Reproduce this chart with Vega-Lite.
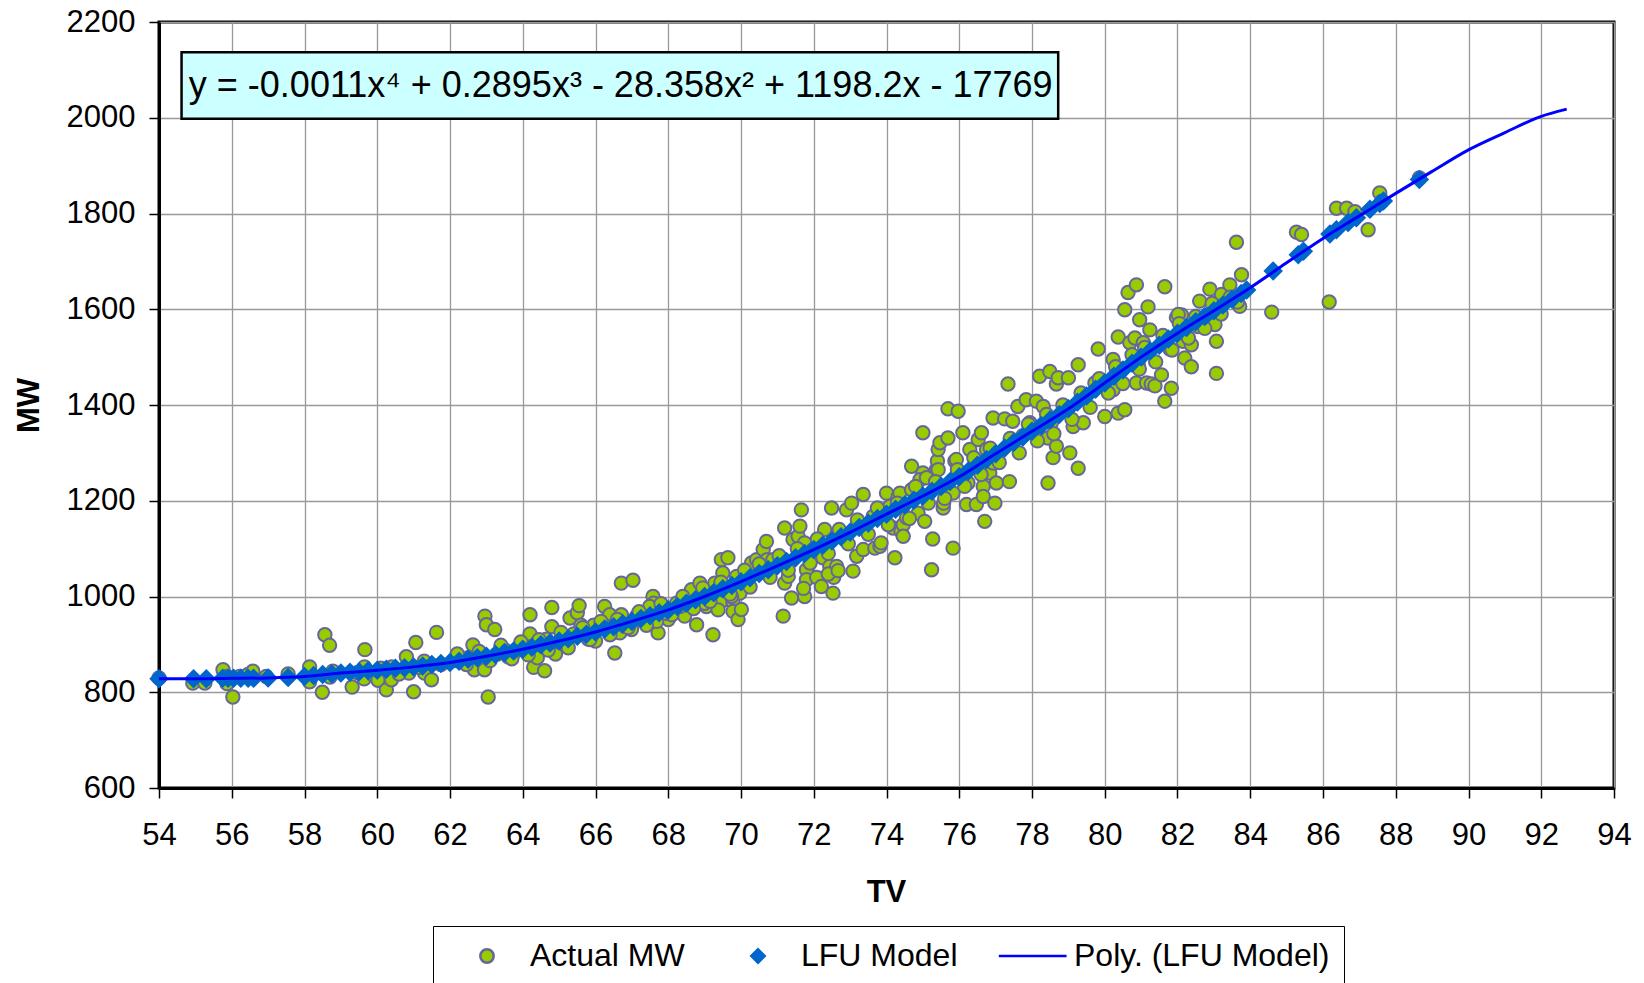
{
  "$schema": "https://vega.github.io/schema/vega-lite/v6.json",
  "width": 1455,
  "height": 766,
  "autosize": {"type": "none"},
  "padding": {"left": 159, "top": 22, "right": 30, "bottom": 195},
  "background": "white",
  "config": {
    "view": {"stroke": "#000000", "strokeWidth": 3},
    "font": "Liberation Sans"
  },
  "datasets": {
    "actual": [
      {"TV":54.0,"MW":830},{"TV":54.93,"MW":819},{"TV":55.26,"MW":819},{"TV":55.76,"MW":847},{"TV":55.87,"MW":818},{"TV":56.03,"MW":790},{"TV":55.87,"MW":833},{"TV":56.22,"MW":833},{"TV":56.45,"MW":837},{"TV":56.58,"MW":844},{"TV":56.95,"MW":833},{"TV":57.55,"MW":838},{"TV":58.14,"MW":853},{"TV":58.14,"MW":822},{"TV":58.56,"MW":920},{"TV":58.69,"MW":898},{"TV":58.49,"MW":800},{"TV":58.78,"MW":844},{"TV":58.7,"MW":832},{"TV":59.31,"MW":811},{"TV":59.66,"MW":889},{"TV":59.65,"MW":853},{"TV":59.64,"MW":828},{"TV":59.88,"MW":837},{"TV":60.02,"MW":825},{"TV":60.25,"MW":805},{"TV":60.39,"MW":826},{"TV":60.4,"MW":853},{"TV":60.8,"MW":874},{"TV":61.0,"MW":801},{"TV":61.06,"MW":904},{"TV":60.87,"MW":840},{"TV":61.29,"MW":865},{"TV":61.3,"MW":840},{"TV":61.49,"MW":826},{"TV":61.63,"MW":925},{"TV":62.13,"MW":866},{"TV":62.63,"MW":899},{"TV":62.65,"MW":861},{"TV":62.67,"MW":847},{"TV":62.96,"MW":959},{"TV":63.0,"MW":941},{"TV":63.23,"MW":931},{"TV":63.05,"MW":790},{"TV":62.95,"MW":847},{"TV":59.45,"MW":841},{"TV":60.1,"MW":850},{"TV":60.6,"MW":838},{"TV":61.15,"MW":852},{"TV":61.75,"MW":858},{"TV":62.3,"MW":868},{"TV":62.5,"MW":872},{"TV":63.3,"MW":880},{"TV":63.5,"MW":889},{"TV":63.6,"MW":874},
      {"TV":64.2,"MW":962},{"TV":64.2,"MW":922},{"TV":64.25,"MW":889},{"TV":64.3,"MW":852},{"TV":64.4,"MW":872},{"TV":64.6,"MW":845},{"TV":64.65,"MW":911},{"TV":64.8,"MW":937},{"TV":64.8,"MW":977},{"TV":64.9,"MW":880},{"TV":65.2,"MW":907},{"TV":65.3,"MW":955},{"TV":65.4,"MW":922},{"TV":65.5,"MW":966},{"TV":65.55,"MW":981},{"TV":65.6,"MW":940},{"TV":65.8,"MW":911},{"TV":65.95,"MW":940},{"TV":66.0,"MW":907},{"TV":64.0,"MW":895},{"TV":64.5,"MW":900},{"TV":65.0,"MW":905},{"TV":65.7,"MW":925},{"TV":63.8,"MW":885},
      {"TV":66.25,"MW":979},{"TV":66.39,"MW":962},{"TV":66.53,"MW":882},{"TV":66.71,"MW":1028},{"TV":67.03,"MW":1034},{"TV":66.71,"MW":962},{"TV":67.03,"MW":945},{"TV":67.13,"MW":959},{"TV":67.31,"MW":962},{"TV":67.58,"MW":1000},{"TV":67.6,"MW":986},{"TV":67.72,"MW":924},{"TV":67.86,"MW":979},{"TV":68.0,"MW":952},{"TV":68.45,"MW":959},{"TV":68.59,"MW":993},{"TV":68.78,"MW":941},{"TV":69.05,"MW":979},{"TV":69.23,"MW":920},{"TV":69.28,"MW":1028},{"TV":69.46,"MW":1077},{"TV":69.64,"MW":1081},{"TV":69.5,"MW":1049},{"TV":69.46,"MW":990},{"TV":69.78,"MW":988},{"TV":69.78,"MW":969},{"TV":69.92,"MW":952},{"TV":70.01,"MW":973},{"TV":69.97,"MW":1007},{"TV":66.3,"MW":938},{"TV":66.67,"MW":924},{"TV":66.8,"MW":938},{"TV":66.99,"MW":931},{"TV":67.49,"MW":979},{"TV":67.68,"MW":948},{"TV":67.95,"MW":965},{"TV":68.23,"MW":986},{"TV":68.32,"MW":979},{"TV":68.64,"MW":1014},{"TV":68.87,"MW":1028},{"TV":69.0,"MW":986},{"TV":69.37,"MW":972},{"TV":69.5,"MW":1014},{"TV":69.74,"MW":1000},{"TV":70.06,"MW":1035},{"TV":69.88,"MW":1042},
      {"TV":70.29,"MW":1070},{"TV":70.43,"MW":1077},{"TV":70.61,"MW":1098},{"TV":70.7,"MW":1115},{"TV":70.72,"MW":1077},{"TV":70.88,"MW":1077},{"TV":71.16,"MW":959},{"TV":71.2,"MW":1143},{"TV":71.2,"MW":1028},{"TV":71.3,"MW":1042},{"TV":71.39,"MW":997},{"TV":71.43,"MW":1119},{"TV":71.57,"MW":1126},{"TV":71.62,"MW":1147},{"TV":71.66,"MW":1181},{"TV":71.75,"MW":1000},{"TV":71.8,"MW":1056},{"TV":71.8,"MW":1035},{"TV":71.75,"MW":1112},{"TV":71.98,"MW":1098},{"TV":72.08,"MW":1040},{"TV":72.21,"MW":1021},{"TV":72.25,"MW":1081},{"TV":72.3,"MW":1140},{"TV":72.44,"MW":1063},{"TV":72.49,"MW":1185},{"TV":72.53,"MW":1007},{"TV":72.55,"MW":1040},{"TV":72.63,"MW":1063},{"TV":72.9,"MW":1181},{"TV":73.04,"MW":1195},{"TV":73.08,"MW":1053},{"TV":73.18,"MW":1084},{"TV":73.22,"MW":1157},{"TV":73.36,"MW":1213},{"TV":73.36,"MW":1098},{"TV":73.63,"MW":1167},{"TV":73.68,"MW":1101},{"TV":73.82,"MW":1105},{"TV":73.85,"MW":1112},{"TV":74.0,"MW":1216},{"TV":74.09,"MW":1188},{"TV":74.18,"MW":1143},{"TV":74.23,"MW":1081},{"TV":74.32,"MW":1209},{"TV":74.37,"MW":1216},{"TV":74.4,"MW":1136},{"TV":74.46,"MW":1150},{"TV":74.69,"MW":1223},{"TV":74.69,"MW":1272},{"TV":74.87,"MW":1174},{"TV":75.0,"MW":1258},{"TV":75.05,"MW":1157},{"TV":75.24,"MW":1056},{"TV":75.37,"MW":1265},{"TV":75.4,"MW":1283},{"TV":75.56,"MW":1185},{"TV":75.57,"MW":1195},{"TV":75.83,"MW":1216},{"TV":75.83,"MW":1101},{"TV":75.88,"MW":1283},{"TV":76.2,"MW":1192},{"TV":76.24,"MW":1237},{"TV":76.47,"MW":1192},{"TV":76.66,"MW":1230},{"TV":76.66,"MW":1209},{"TV":76.7,"MW":1157},{"TV":76.98,"MW":1195},{"TV":76.84,"MW":1258},
      {"TV":75.0,"MW":1342},{"TV":74.92,"MW":1244},{"TV":75.1,"MW":1248},{"TV":75.42,"MW":1307},{"TV":75.47,"MW":1321},{"TV":75.42,"MW":1265},{"TV":75.69,"MW":1392},{"TV":75.97,"MW":1387},{"TV":75.69,"MW":1331},{"TV":75.92,"MW":1286},{"TV":76.1,"MW":1342},{"TV":76.29,"MW":1307},{"TV":76.52,"MW":1328},{"TV":76.61,"MW":1342},{"TV":76.75,"MW":1307},{"TV":76.93,"MW":1373},{"TV":77.02,"MW":1237},{"TV":76.93,"MW":1279},{"TV":77.25,"MW":1371},{"TV":77.34,"MW":1444},{"TV":77.38,"MW":1240},{"TV":77.47,"MW":1366},{"TV":77.61,"MW":1397},{"TV":77.75,"MW":1336},{"TV":77.84,"MW":1411},{"TV":77.94,"MW":1363},{"TV":78.12,"MW":1408},{"TV":78.21,"MW":1460},{"TV":78.31,"MW":1397},{"TV":78.44,"MW":1237},{"TV":78.44,"MW":1331},{"TV":78.49,"MW":1470},{"TV":78.53,"MW":1363},{"TV":78.58,"MW":1290},{"TV":78.67,"MW":1314},{"TV":78.67,"MW":1444},{"TV":78.72,"MW":1457},{"TV":79.0,"MW":1457},{"TV":79.04,"MW":1300},{"TV":79.13,"MW":1355},{"TV":79.27,"MW":1484},{"TV":79.27,"MW":1268},{"TV":79.41,"MW":1363},{"TV":79.82,"MW":1517},{"TV":79.73,"MW":1446},{"TV":80.0,"MW":1376},{"TV":80.23,"MW":1432},{"TV":80.23,"MW":1495},{"TV":80.37,"MW":1383},{"TV":80.37,"MW":1542},{"TV":80.55,"MW":1390},{"TV":80.55,"MW":1599},{"TV":80.64,"MW":1635},{"TV":80.69,"MW":1530},{"TV":80.83,"MW":1540},{"TV":80.87,"MW":1651},{"TV":80.87,"MW":1446},{"TV":80.92,"MW":1484},{"TV":80.96,"MW":1578},{"TV":81.06,"MW":1530},{"TV":81.15,"MW":1446},{"TV":81.19,"MW":1605},{"TV":81.24,"MW":1557},{"TV":81.28,"MW":1444},{"TV":81.38,"MW":1440},{"TV":81.56,"MW":1463},{"TV":81.65,"MW":1647},{"TV":81.65,"MW":1408},{"TV":81.79,"MW":1517},{"TV":81.83,"MW":1435},{"TV":81.97,"MW":1583},{"TV":82.11,"MW":1588},{"TV":82.15,"MW":1533},{"TV":82.2,"MW":1498},{"TV":82.38,"MW":1480},{"TV":82.38,"MW":1526},{"TV":82.61,"MW":1617},{"TV":82.89,"MW":1642},{"TV":83.03,"MW":1568},{"TV":83.07,"MW":1533},{"TV":83.07,"MW":1466},{"TV":83.21,"MW":1631},{"TV":83.44,"MW":1651},{"TV":83.76,"MW":1672},{"TV":83.71,"MW":1606},{"TV":82.02,"MW":1589},{"TV":82.57,"MW":1564},{"TV":83.62,"MW":1740},{"TV":84.59,"MW":1594},{"TV":85.27,"MW":1761},{"TV":85.41,"MW":1756},{"TV":86.17,"MW":1615},{"TV":86.37,"MW":1811},{"TV":86.65,"MW":1811},{"TV":86.88,"MW":1804},{"TV":87.24,"MW":1766},{"TV":87.56,"MW":1843},{"TV":87.61,"MW":1825},{"TV":88.65,"MW":1874},
      {"TV":62.2,"MW":880},{"TV":62.45,"MW":858},{"TV":62.8,"MW":885},{"TV":63.1,"MW":866},{"TV":63.4,"MW":898},{"TV":63.7,"MW":870},{"TV":63.95,"MW":905},{"TV":64.15,"MW":878},{"TV":64.45,"MW":910},{"TV":64.7,"MW":888},{"TV":65.05,"MW":925},{"TV":65.25,"MW":893},{"TV":65.65,"MW":935},{"TV":65.85,"MW":910},{"TV":66.15,"MW":948},{"TV":66.4,"MW":920},{"TV":66.6,"MW":952},{"TV":66.9,"MW":935},{"TV":67.2,"MW":968},{"TV":67.4,"MW":940},{"TV":67.8,"MW":985},{"TV":68.1,"MW":962},{"TV":68.4,"MW":1000},{"TV":68.7,"MW":975},{"TV":68.95,"MW":1018},{"TV":69.15,"MW":990},{"TV":69.45,"MW":1030},{"TV":69.7,"MW":1005},{"TV":70.1,"MW":1055},{"TV":70.25,"MW":1020},{"TV":70.5,"MW":1068},{"TV":70.8,"MW":1040},{"TV":71.05,"MW":1085},{"TV":71.3,"MW":1055},{"TV":71.55,"MW":1100},{"TV":71.9,"MW":1070},{"TV":72.1,"MW":1120},{"TV":72.4,"MW":1090},{"TV":72.7,"MW":1140},{"TV":72.95,"MW":1110},{"TV":73.2,"MW":1160},{"TV":73.5,"MW":1130},{"TV":73.75,"MW":1185},{"TV":74.05,"MW":1150},{"TV":74.3,"MW":1195},{"TV":74.55,"MW":1165},{"TV":74.8,"MW":1230},{"TV":75.15,"MW":1195},{"TV":75.35,"MW":1240},{"TV":75.6,"MW":1205},{"TV":75.95,"MW":1265},{"TV":76.15,"MW":1230},{"TV":76.4,"MW":1290},{"TV":76.6,"MW":1255},{"TV":76.85,"MW":1310},{"TV":77.1,"MW":1280},{"TV":77.4,"MW":1330},{"TV":77.65,"MW":1300},{"TV":77.9,"MW":1360},{"TV":78.15,"MW":1325},{"TV":78.4,"MW":1380},{"TV":78.6,"MW":1340},{"TV":78.85,"MW":1400},{"TV":79.1,"MW":1370},{"TV":79.35,"MW":1425},{"TV":79.6,"MW":1395},{"TV":79.85,"MW":1455},{"TV":80.1,"MW":1425},{"TV":80.3,"MW":1480},{"TV":80.5,"MW":1445},{"TV":80.75,"MW":1505},{"TV":80.95,"MW":1475},{"TV":81.1,"MW":1520},{"TV":81.4,"MW":1490},{"TV":81.6,"MW":1545},{"TV":81.85,"MW":1515},{"TV":82.05,"MW":1570},{"TV":82.3,"MW":1540},{"TV":82.5,"MW":1585},{"TV":82.75,"MW":1560},{"TV":82.95,"MW":1612},{"TV":83.2,"MW":1590},{"TV":83.45,"MW":1625},{"TV":83.65,"MW":1615},
      {"TV":71.72,"MW":1017},{"TV":72.4,"MW":1047},{"TV":72.67,"MW":1054},{"TV":74.46,"MW":1126},{"TV":74.63,"MW":1163},{"TV":75.27,"MW":1120}
    ],
    "lfu": [
      {"TV":54.0,"MW":828},{"TV":54.95,"MW":828},{"TV":55.3,"MW":828},{"TV":55.75,"MW":829},{"TV":55.9,"MW":829},{"TV":56.05,"MW":829},{"TV":56.25,"MW":829},{"TV":56.45,"MW":829},{"TV":56.6,"MW":829},{"TV":57.0,"MW":830},{"TV":57.55,"MW":831},{"TV":58.0,"MW":833},
      {"TV":58.25,"MW":835},{"TV":58.5,"MW":837},{"TV":58.75,"MW":838},{"TV":59.0,"MW":840},{"TV":59.25,"MW":842},{"TV":59.5,"MW":843},{"TV":59.75,"MW":845},{"TV":60.0,"MW":846},{"TV":60.25,"MW":848},{"TV":60.5,"MW":850},{"TV":60.75,"MW":851},{"TV":61.0,"MW":853},{"TV":61.25,"MW":855},{"TV":61.5,"MW":858},{"TV":61.75,"MW":860},{"TV":62.0,"MW":862},{"TV":62.25,"MW":865},{"TV":62.5,"MW":869},{"TV":62.75,"MW":872},{"TV":63.0,"MW":875},{"TV":63.25,"MW":879},{"TV":63.5,"MW":883},{"TV":63.75,"MW":886},{"TV":64.0,"MW":890},{"TV":64.25,"MW":894},{"TV":64.5,"MW":899},{"TV":64.75,"MW":903},{"TV":65.0,"MW":907},{"TV":65.25,"MW":912},{"TV":65.5,"MW":917},{"TV":65.75,"MW":921},{"TV":66.0,"MW":926},{"TV":66.25,"MW":932},{"TV":66.5,"MW":937},{"TV":66.75,"MW":943},{"TV":67.0,"MW":948},{"TV":67.25,"MW":954},{"TV":67.5,"MW":960},{"TV":67.75,"MW":966},{"TV":68.0,"MW":972},{"TV":68.25,"MW":979},{"TV":68.5,"MW":986},{"TV":68.75,"MW":993},{"TV":69.0,"MW":1000},{"TV":69.25,"MW":1008},{"TV":69.5,"MW":1016},{"TV":69.75,"MW":1023},{"TV":70.0,"MW":1031},{"TV":70.25,"MW":1039},{"TV":70.5,"MW":1048},{"TV":70.75,"MW":1056},{"TV":71.0,"MW":1064},{"TV":71.25,"MW":1073},{"TV":71.5,"MW":1081},{"TV":71.75,"MW":1090},{"TV":72.0,"MW":1098},{"TV":72.25,"MW":1107},{"TV":72.5,"MW":1116},{"TV":72.75,"MW":1125},{"TV":73.0,"MW":1134},{"TV":73.25,"MW":1144},{"TV":73.5,"MW":1153},{"TV":73.75,"MW":1163},{"TV":74.0,"MW":1172},{"TV":74.25,"MW":1182},{"TV":74.5,"MW":1191},{"TV":74.75,"MW":1201},{"TV":75.0,"MW":1210},{"TV":75.25,"MW":1220},{"TV":75.5,"MW":1230},{"TV":75.75,"MW":1240},{"TV":76.0,"MW":1250},{"TV":76.25,"MW":1262},{"TV":76.5,"MW":1274},{"TV":76.75,"MW":1286},{"TV":77.0,"MW":1298},{"TV":77.25,"MW":1310},{"TV":77.5,"MW":1322},{"TV":77.75,"MW":1333},{"TV":78.0,"MW":1345},{"TV":78.25,"MW":1357},{"TV":78.5,"MW":1369},{"TV":78.75,"MW":1380},{"TV":79.0,"MW":1392},{"TV":79.25,"MW":1406},{"TV":79.5,"MW":1419},{"TV":79.75,"MW":1433},{"TV":80.0,"MW":1446},{"TV":80.25,"MW":1460},{"TV":80.5,"MW":1473},{"TV":80.75,"MW":1487},{"TV":81.0,"MW":1500},{"TV":81.25,"MW":1513},{"TV":81.5,"MW":1525},{"TV":81.75,"MW":1538},{"TV":82.0,"MW":1550},{"TV":82.25,"MW":1562},{"TV":82.5,"MW":1574},{"TV":82.75,"MW":1585},{"TV":83.0,"MW":1597},{"TV":83.25,"MW":1609},{"TV":83.5,"MW":1621},{"TV":83.75,"MW":1633},{"TV":83.9,"MW":1640},
      {"TV":84.63,"MW":1680},{"TV":85.32,"MW":1714},{"TV":85.46,"MW":1721},{"TV":86.19,"MW":1757},{"TV":86.37,"MW":1766},{"TV":86.69,"MW":1781},{"TV":86.92,"MW":1791},{"TV":87.29,"MW":1809},{"TV":87.56,"MW":1821},{"TV":87.66,"MW":1826},{"TV":88.65,"MW":1871}
    ],
    "poly": [
      {"TV":54,"MW":828},{"TV":55,"MW":828},{"TV":56,"MW":829},{"TV":57,"MW":830},{"TV":58,"MW":833},{"TV":59,"MW":840},{"TV":60,"MW":846},{"TV":61,"MW":853},{"TV":62,"MW":862},{"TV":63,"MW":875},{"TV":64,"MW":890},{"TV":65,"MW":907},{"TV":66,"MW":926},{"TV":67,"MW":948},{"TV":68,"MW":972},{"TV":69,"MW":1000},{"TV":70,"MW":1031},{"TV":71,"MW":1064},{"TV":72,"MW":1098},{"TV":73,"MW":1134},{"TV":74,"MW":1172},{"TV":75,"MW":1210},{"TV":76,"MW":1250},{"TV":77,"MW":1298},{"TV":78,"MW":1345},{"TV":79,"MW":1392},{"TV":80,"MW":1446},{"TV":81,"MW":1500},{"TV":82,"MW":1550},{"TV":83,"MW":1597},{"TV":84,"MW":1645},{"TV":85,"MW":1697},{"TV":86,"MW":1748},{"TV":87,"MW":1795},{"TV":88,"MW":1842},{"TV":89,"MW":1888},{"TV":90,"MW":1933},{"TV":91,"MW":1969},{"TV":92,"MW":2003},{"TV":92.7,"MW":2018}
    ],
    "equation": [
      {"eq": "y = -0.0011x⁴ + 0.2895x³ - 28.358x² + 1198.2x - 17769"}
    ]
  },
  "layer": [
    {
      "data": {"name": "actual"},
      "mark": {"type": "point", "filled": true, "strokeWidth": 2, "size": 180, "opacity": 1},
      "encoding": {
        "x": {
          "field": "TV", "type": "quantitative",
          "scale": {"domain": [54, 94], "nice": false, "zero": false},
          "axis": {
            "values": [54,56,58,60,62,64,66,68,70,72,74,76,78,80,82,84,86,88,90,92,94],
            "format": "d",
            "grid": true, "gridColor": "#999999", "gridWidth": 1.3,
            "domain": true, "domainColor": "#000000", "domainWidth": 3,
            "ticks": true, "tickColor": "#000000", "tickWidth": 1.5, "tickSize": 10,
            "labelFont": "Liberation Sans", "labelFontSize": 31, "labelColor": "#000000",
            "labelPadding": 22, "labelFlush": false, "labelOverlap": false,
            "title": "TV", "titleFont": "Liberation Sans", "titleFontSize": 31, "titleFontWeight": "bold", "titleColor": "#000000",
            "titleX": 727, "titleY": 104, "titleAlign": "center", "titleBaseline": "middle"
          }
        },
        "y": {
          "field": "MW", "type": "quantitative",
          "scale": {"domain": [600, 2200], "nice": false, "zero": false},
          "axis": {
            "values": [600,800,1000,1200,1400,1600,1800,2000,2200],
            "format": "d",
            "grid": true, "gridColor": "#999999", "gridWidth": 1.3,
            "domain": true, "domainColor": "#000000", "domainWidth": 3,
            "ticks": true, "tickColor": "#000000", "tickWidth": 1.5, "tickSize": 10,
            "labelFont": "Liberation Sans", "labelFontSize": 31, "labelColor": "#000000",
            "labelPadding": 14, "labelFlush": false, "labelOverlap": false,
            "title": "MW", "titleFont": "Liberation Sans", "titleFontSize": 31, "titleFontWeight": "bold", "titleColor": "#000000",
            "titleX": -130, "titleY": 383, "titleAngle": 270, "titleAlign": "center", "titleBaseline": "middle"
          }
        },
        "fill": {
          "datum": "Actual MW", "type": "nominal",
          "scale": {"domain": ["Actual MW", "LFU Model", "Poly. (LFU Model)"], "range": ["#99cc00", "#0066cc", "transparent"]},
          "legend": {
            "orient": "none", "legendX": 274, "legendY": 904,
            "direction": "horizontal", "columns": 3, "gridAlign": "none",
            "title": null,
            "padding": 14, "strokeColor": "#000000", "fillColor": "#ffffff",
            "labelFont": "Liberation Sans", "labelFontSize": 32, "labelColor": "#000000", "labelLimit": 500,
            "labelOffset": 27, "symbolSize": 180, "symbolOffset": 24, "columnPadding": 33,
            "symbolStrokeWidth": 2.5, "symbolOpacity": 1
          }
        },
        "shape": {
          "datum": "Actual MW", "type": "nominal",
          "scale": {"domain": ["Actual MW", "LFU Model", "Poly. (LFU Model)"], "range": ["circle", "diamond", "M-4.8,0L5.3,0"]},
          "legend": {
            "orient": "none", "legendX": 274, "legendY": 904,
            "direction": "horizontal", "columns": 3, "gridAlign": "none",
            "title": null,
            "padding": 14, "strokeColor": "#000000", "fillColor": "#ffffff",
            "labelFont": "Liberation Sans", "labelFontSize": 32, "labelColor": "#000000", "labelLimit": 500,
            "labelOffset": 27, "symbolSize": 180, "symbolOffset": 24, "columnPadding": 33,
            "symbolStrokeWidth": 2.5, "symbolOpacity": 1
          }
        },
        "stroke": {
          "datum": "Actual MW", "type": "nominal",
          "scale": {"domain": ["Actual MW", "LFU Model", "Poly. (LFU Model)"], "range": ["#666699", "#0066cc", "#0000ff"]},
          "legend": {
            "orient": "none", "legendX": 274, "legendY": 904,
            "direction": "horizontal", "columns": 3, "gridAlign": "none",
            "title": null,
            "padding": 14, "strokeColor": "#000000", "fillColor": "#ffffff",
            "labelFont": "Liberation Sans", "labelFontSize": 32, "labelColor": "#000000", "labelLimit": 500,
            "labelOffset": 27, "symbolSize": 180, "symbolOffset": 24, "columnPadding": 33,
            "symbolStrokeWidth": 2.5, "symbolOpacity": 1
          }
        }
      }
    },
    {
      "data": {"name": "lfu"},
      "mark": {"type": "point", "filled": true, "size": 380, "opacity": 1, "strokeWidth": 0},
      "encoding": {
        "x": {"field": "TV", "type": "quantitative", "scale": {"domain": [54, 94], "nice": false, "zero": false}},
        "y": {"field": "MW", "type": "quantitative", "scale": {"domain": [600, 2200], "nice": false, "zero": false}},
        "fill": {"datum": "LFU Model", "type": "nominal"},
        "shape": {"datum": "LFU Model", "type": "nominal"},
        "stroke": {"datum": "LFU Model", "type": "nominal"}
      }
    },
    {
      "data": {"name": "poly"},
      "mark": {"type": "line", "strokeWidth": 3, "interpolate": "monotone"},
      "encoding": {
        "x": {"field": "TV", "type": "quantitative", "scale": {"domain": [54, 94], "nice": false, "zero": false}},
        "y": {"field": "MW", "type": "quantitative", "scale": {"domain": [600, 2200], "nice": false, "zero": false}},
        "stroke": {"datum": "Poly. (LFU Model)", "type": "nominal"}
      }
    },
    {
      "data": {"name": "equation"},
      "mark": {"type": "rect", "fill": "#ccffff", "stroke": "#000000", "strokeWidth": 2.5},
      "encoding": {
        "x": {"datum": 54.62, "type": "quantitative", "scale": {"domain": [54, 94], "nice": false, "zero": false}},
        "x2": {"datum": 78.72},
        "y": {"datum": 2137, "type": "quantitative", "scale": {"domain": [600, 2200], "nice": false, "zero": false}},
        "y2": {"datum": 1998}
      }
    },
    {
      "data": {"name": "equation"},
      "mark": {"type": "text", "align": "left", "baseline": "middle", "font": "Liberation Sans", "fontSize": 36, "color": "#000000"},
      "encoding": {
        "x": {"datum": 54.82, "type": "quantitative", "scale": {"domain": [54, 94], "nice": false, "zero": false}},
        "y": {"datum": 2066, "type": "quantitative", "scale": {"domain": [600, 2200], "nice": false, "zero": false}},
        "text": {"field": "eq"}
      }
    }
  ]
}
